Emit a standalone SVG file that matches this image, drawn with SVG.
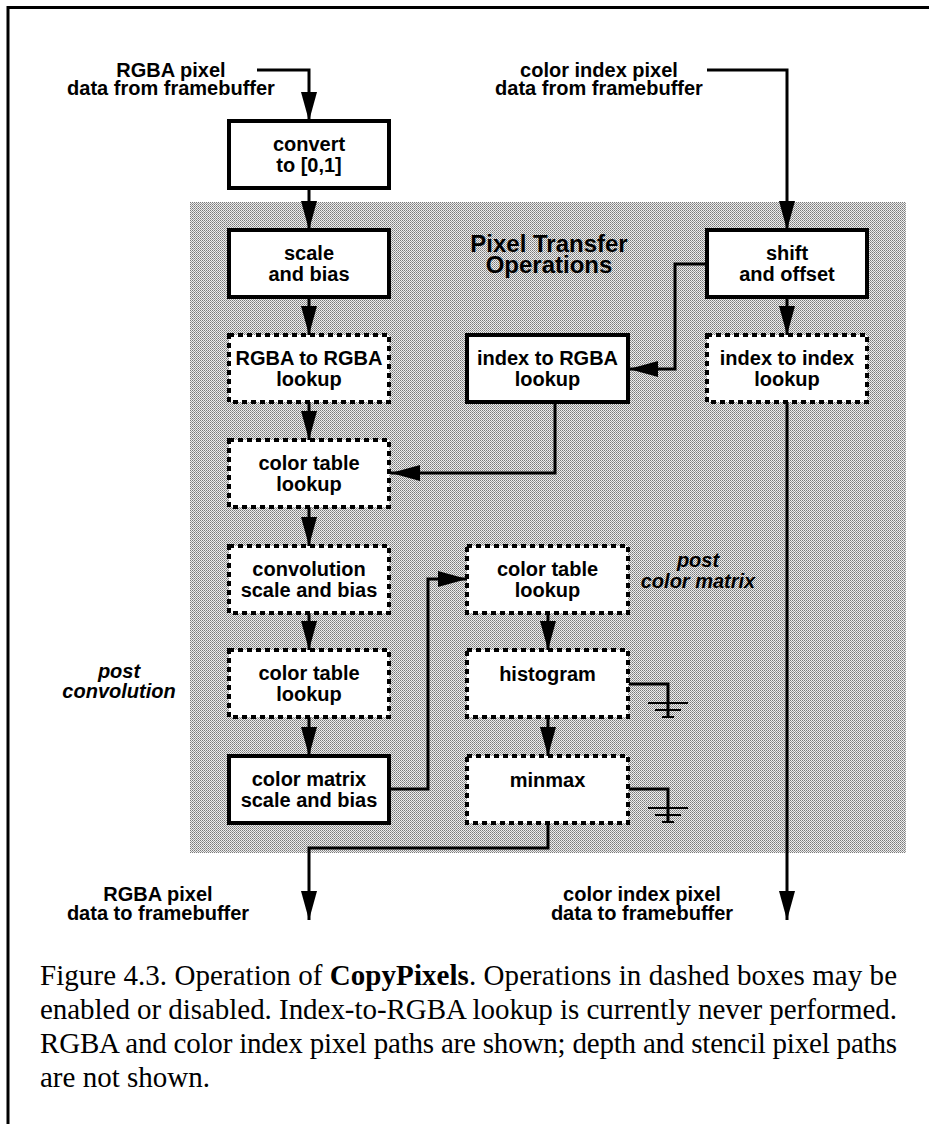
<svg xmlns="http://www.w3.org/2000/svg" width="929" height="1124" viewBox="0 0 929 1124">
<style>
.lbl{font-family:"Liberation Sans",Arial,sans-serif;font-weight:bold;font-size:20px;text-anchor:middle;fill:#000}
.ital{font-style:italic}
.big{font-size:24px}
.cap{font-family:"Liberation Serif","Times New Roman",serif;font-size:29px;fill:#000}
.box{fill:#fff;stroke:#000;stroke-width:4}
.dash{fill:#fff;stroke:#000;stroke-width:4;stroke-dasharray:5 4}
.wire{fill:none;stroke:#000;stroke-width:3}
.arr{fill:none;stroke:#000;stroke-width:3;marker-end:url(#ah)}
.gnd{fill:none;stroke:#000;stroke-width:2}
</style>
<defs>
<pattern id="dots" width="2" height="2" patternUnits="userSpaceOnUse">
<rect width="2" height="2" fill="#eeeeee"/>
<rect width="1" height="1" fill="#7a7a7a"/>
<rect x="1" y="1" width="1" height="1" fill="#9a9a9a"/>
</pattern>
<marker id="ah" markerUnits="userSpaceOnUse" markerWidth="30" markerHeight="16" refX="29" refY="8" orient="auto">
<path d="M0,0 L29,8 L0,16 Z" fill="#000"/>
</marker>
</defs>
<rect width="929" height="1124" fill="#fff"/>
<g id="frame">
<path d="M8,1124 V7.5 H929" fill="none" stroke="#000" stroke-width="3"/>
</g>
<g id="pixel-transfer-area">
<rect x="190" y="202" width="716" height="651" fill="url(#dots)"/>
<text class="lbl big" x="549" y="252">Pixel Transfer</text>
<text class="lbl big" x="549" y="273">Operations</text>
</g>
<g id="labels">
<text class="lbl" x="171" y="77">RGBA pixel</text>
<text class="lbl" x="171" y="95">data from framebuffer</text>
<text class="lbl" x="599" y="77">color index pixel</text>
<text class="lbl" x="599" y="95">data from framebuffer</text>
<text class="lbl ital" x="119" y="678">post</text>
<text class="lbl ital" x="119" y="698">convolution</text>
<text class="lbl ital" x="698" y="567">post</text>
<text class="lbl ital" x="698" y="588">color matrix</text>
<text class="lbl" x="158" y="901">RGBA pixel</text>
<text class="lbl" x="158" y="920">data to framebuffer</text>
<text class="lbl" x="642" y="901">color index pixel</text>
<text class="lbl" x="642" y="920">data to framebuffer</text>
</g>
<g id="connectors">
<path class="arr" d="M257,70 H309 V121"/>
<path class="arr" d="M309,188 V230"/>
<path class="arr" d="M309,297 V335"/>
<path class="arr" d="M309,402 V440"/>
<path class="arr" d="M309,507 V546"/>
<path class="arr" d="M309,613 V650"/>
<path class="arr" d="M309,717 V756"/>
<path class="arr" d="M707,70 H787 V230"/>
<path class="arr" d="M787,297 V335"/>
<path class="arr" d="M707,264 H675 V369 H629"/>
<path class="arr" d="M555,402 V473 H391"/>
<path class="arr" d="M391,789 H428 V579 H467"/>
<path class="arr" d="M548,613 V650"/>
<path class="arr" d="M548,717 V756"/>
<path class="arr" d="M548,823 V848 H309 V920"/>
<path class="arr" d="M787,402 V920"/>
<path class="wire" d="M629,684 H668 V717"/>
<path class="gnd" d="M648,703 H688 M655,710 H681 M662,717 H674"/>
<path class="wire" d="M629,789 H668 V822"/>
<path class="gnd" d="M648,808 H688 M655,815 H681 M662,822 H674"/>
</g>
<g id="n-convert">
<rect class="box" x="229" y="121" width="160" height="67"/>
<text class="lbl" x="309" y="151">convert</text>
<text class="lbl" x="309" y="172">to [0,1]</text>
</g>
<g id="n-scale-bias">
<rect class="box" x="229" y="230" width="160" height="67"/>
<text class="lbl" x="309" y="260">scale</text>
<text class="lbl" x="309" y="281">and bias</text>
</g>
<g id="n-rgba-rgba">
<rect class="dash" x="229" y="335" width="160" height="67"/>
<text class="lbl" x="309" y="365">RGBA to RGBA</text>
<text class="lbl" x="309" y="386">lookup</text>
</g>
<g id="n-color-table">
<rect class="dash" x="229" y="440" width="160" height="67"/>
<text class="lbl" x="309" y="470">color table</text>
<text class="lbl" x="309" y="491">lookup</text>
</g>
<g id="n-convolution">
<rect class="dash" x="229" y="546" width="160" height="67"/>
<text class="lbl" x="309" y="576">convolution</text>
<text class="lbl" x="309" y="597">scale and bias</text>
</g>
<g id="n-color-table-2">
<rect class="dash" x="229" y="650" width="160" height="67"/>
<text class="lbl" x="309" y="680">color table</text>
<text class="lbl" x="309" y="701">lookup</text>
</g>
<g id="n-color-matrix">
<rect class="box" x="229" y="756" width="160" height="67"/>
<text class="lbl" x="309" y="786">color matrix</text>
<text class="lbl" x="309" y="807">scale and bias</text>
</g>
<g id="n-index-rgba">
<rect class="box" x="467" y="335" width="161" height="67"/>
<text class="lbl" x="547.5" y="365">index to RGBA</text>
<text class="lbl" x="547.5" y="386">lookup</text>
</g>
<g id="n-color-table-3">
<rect class="dash" x="467" y="546" width="161" height="67"/>
<text class="lbl" x="547.5" y="576">color table</text>
<text class="lbl" x="547.5" y="597">lookup</text>
</g>
<g id="n-histogram">
<rect class="dash" x="467" y="650" width="161" height="67"/>
<text class="lbl" x="547.5" y="681">histogram</text>
</g>
<g id="n-minmax">
<rect class="dash" x="467" y="756" width="161" height="67"/>
<text class="lbl" x="547.5" y="787">minmax</text>
</g>
<g id="n-shift-offset">
<rect class="box" x="707" y="230" width="160" height="67"/>
<text class="lbl" x="787" y="260">shift</text>
<text class="lbl" x="787" y="281">and offset</text>
</g>
<g id="n-index-index">
<rect class="dash" x="707" y="335" width="160" height="67"/>
<text class="lbl" x="787" y="365">index to index</text>
<text class="lbl" x="787" y="386">lookup</text>
</g>
<g id="caption">
<text class="cap" x="40" y="985" textLength="857" lengthAdjust="spacing">Figure 4.3. Operation of <tspan font-weight="bold">CopyPixels</tspan>. Operations in dashed boxes may be</text>
<text class="cap" x="40" y="1019" textLength="857" lengthAdjust="spacing">enabled or disabled. Index-to-RGBA lookup is currently never performed.</text>
<text class="cap" x="40" y="1053" textLength="857" lengthAdjust="spacing">RGBA and color index pixel paths are shown; depth and stencil pixel paths</text>
<text class="cap" x="40" y="1087">are not shown.</text>
</g>
</svg>
